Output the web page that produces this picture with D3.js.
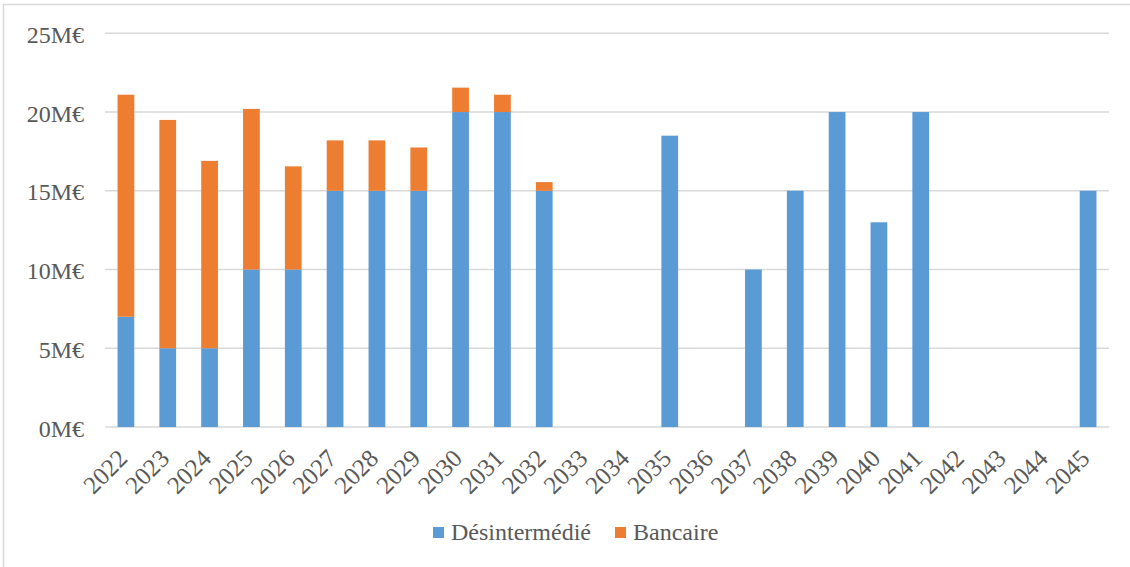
<!DOCTYPE html>
<html>
<head>
<meta charset="utf-8">
<script src="https://cdn.jsdelivr.net/npm/d3@7"></script>
<style>
  html, body { margin: 0; padding: 0; background: #fff; }
  svg { display: block; }
</style>
</head>
<body>
<svg id="chart" width="1130" height="567"></svg>
<script>
// Funding maturities per year, in millions of euros
const years = ["2022","2023","2024","2025","2026","2027","2028","2029","2030","2031","2032","2033",
               "2034","2035","2036","2037","2038","2039","2040","2041","2042","2043","2044","2045"];
const desintermedie = [7, 5, 5, 10, 10, 15, 15, 15, 20, 20, 15, 0, 0, 18.5, 0, 10, 15, 20, 13, 20, 0, 0, 0, 15];
const bancaire      = [14.1, 14.5, 11.9, 10.2, 6.55, 3.2, 3.2, 2.75, 1.55, 1.1, 0.55, 0, 0, 0, 0, 0, 0, 0, 0, 0, 0, 0, 0, 0];
const yTicks = [0, 5, 10, 15, 20, 25];
const seriesNames = ["Désintermédié", "Bancaire"];
const seriesColors = ["#5B9BD5", "#ED7D31"];

const FONT = '"Liberation Serif"';
const TEXT_COLOR = "#595959";

const svg = d3.select("#chart");

// chart frame
svg.append("rect")
  .attr("x", 3.5).attr("y", 4.5)
  .attr("width", 1140).attr("height", 600)
  .attr("fill", "none").attr("stroke", "#D9D9D9").attr("stroke-width", 1.5);

const plot = { left: 105, right: 1109, top: 33.3, bottom: 427 };

const x = d3.scaleBand().domain(years).range([plot.left, plot.right]).paddingInner(0.6).paddingOuter(0.3);
const y = d3.scaleLinear().domain([0, 25]).range([plot.bottom, plot.top]);

// gridlines
svg.append("g")
  .selectAll("line").data(yTicks).join("line")
  .attr("x1", plot.left).attr("x2", plot.right)
  .attr("y1", d => y(d)).attr("y2", d => y(d))
  .attr("stroke", "#D9D9D9").attr("stroke-width", 1.5);

// y axis labels
const yAxis = d3.axisLeft(y).tickValues(yTicks).tickFormat(d => d + "M€").tickSize(0).tickPadding(21);
const yg = svg.append("g").attr("transform", `translate(${plot.left},0)`).call(yAxis)
  .attr("font-family", null).attr("font-size", null);
yg.select(".domain").remove();
yg.selectAll("text")
  .style("font-family", FONT).style("font-size", "24px").style("fill", TEXT_COLOR)
  .attr("dy", "0.38em");

// stacked bars
const rows = years.map((yr, i) => ({ year: yr, "Désintermédié": desintermedie[i], "Bancaire": bancaire[i] }));
const stack = d3.stack().keys(seriesNames)(rows);

svg.append("g").selectAll("g").data(stack).join("g")
  .attr("fill", (d, i) => seriesColors[i])
  .selectAll("rect").data(d => d.filter(s => s[1] - s[0] > 0)).join("rect")
  .attr("x", d => x(d.data.year))
  .attr("width", x.bandwidth())
  .attr("y", d => y(d[1]))
  .attr("height", d => y(d[0]) - y(d[1]));

// x axis labels, rotated
const xAxis = d3.axisBottom(x).tickSize(0).tickPadding(0);
const xg = svg.append("g").attr("transform", `translate(0,${plot.bottom})`).call(xAxis)
  .attr("font-family", null).attr("font-size", null);
xg.select(".domain").remove();
xg.selectAll("text")
  .style("font-family", FONT).style("font-size", "25px").style("fill", TEXT_COLOR)
  .attr("text-anchor", "end")
  .attr("dy", null).attr("y", 0)
  .attr("transform", "translate(3,33) rotate(-45)");

// legend
const legendX = [433, 615];
const lg = svg.append("g");
seriesNames.forEach((name, i) => {
  lg.append("rect").attr("x", legendX[i]).attr("y", 527).attr("width", 11).attr("height", 11)
    .attr("fill", seriesColors[i]);
  lg.append("text").attr("x", legendX[i] + 18).attr("y", 540)
    .style("font-family", FONT).style("font-size", "24px").style("fill", TEXT_COLOR)
    .text(name);
});
</script>
</body>
</html>
